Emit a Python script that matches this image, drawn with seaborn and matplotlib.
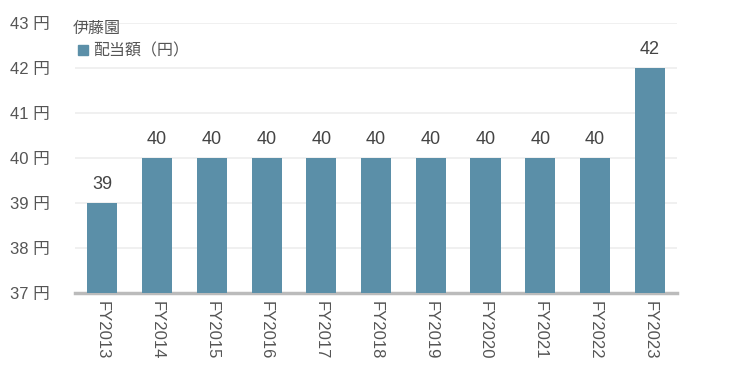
import matplotlib
matplotlib.use("Agg")
import matplotlib.pyplot as plt
import seaborn as sns
import pandas as pd
from matplotlib.patches import Patch

years = ["FY2013", "FY2014", "FY2015", "FY2016", "FY2017", "FY2018",
         "FY2019", "FY2020", "FY2021", "FY2022", "FY2023"]
dividends = [39, 40, 40, 40, 40, 40, 40, 40, 40, 40, 42]
yticks = [37, 38, 39, 40, 41, 42, 43]
title = "伊藤園"
series_name = "配当額（円）"

sns.set_theme(style="white")
plt.rcParams['font.family'] = ['Liberation Sans', 'Noto Sans CJK JP', 'DejaVu Sans']

color = "#5b8fa8"
df = pd.DataFrame({"year": years, "value": dividends})

fig = plt.figure(figsize=(7.5, 3.78), dpi=100)
ax = fig.add_axes([0.1, 0.225, 0.8027, 0.714])
sns.barplot(data=df, x="year", y="value", color=color, width=0.55,
            saturation=1, ax=ax, zorder=3, linewidth=0, edgecolor="none")
ax.set_ylim(37, 43)
ax.set_xlim(-0.5, 10.5)
ax.set_yticks(yticks)
ax.set_yticklabels([f"{v} 円" for v in yticks], color="#555555", fontsize=12)
ax.tick_params(axis="y", length=0, pad=18)
ax.tick_params(axis="x", length=0, pad=6)
ax.set_xticks(range(len(years)))
ax.set_xticklabels(years, rotation=270, color="#555555", fontsize=12)
ax.set_xlabel("")
ax.set_ylabel("")
ax.grid(axis="y", color="#eeeeee", linewidth=1.2, zorder=0)
for s in ["top", "right", "left"]:
    ax.spines[s].set_visible(False)
ax.spines["bottom"].set_color("#bbbbbb")
ax.spines["bottom"].set_linewidth(2.5)

for i, v in enumerate(dividends):
    ax.text(i, v + 0.22, f"{v}", ha="center", va="bottom", fontsize=13,
            color="#444444")

fig.text(0.097, 0.925, title, fontsize=11.5, color="#555555", ha="left", va="center",
         family=['Noto Sans CJK JP'])
ax.legend(handles=[Patch(color=color, label=series_name)], loc="upper left",
          bbox_to_anchor=(-0.005, 0.95), frameon=False,
          handlelength=0.6, handleheight=0.6, handletextpad=0.3,
          labelcolor="#555555", borderaxespad=0,
          prop={'family': ['Noto Sans CJK JP'], 'size': 11.5})

fig.savefig("out.png", dpi=100)
